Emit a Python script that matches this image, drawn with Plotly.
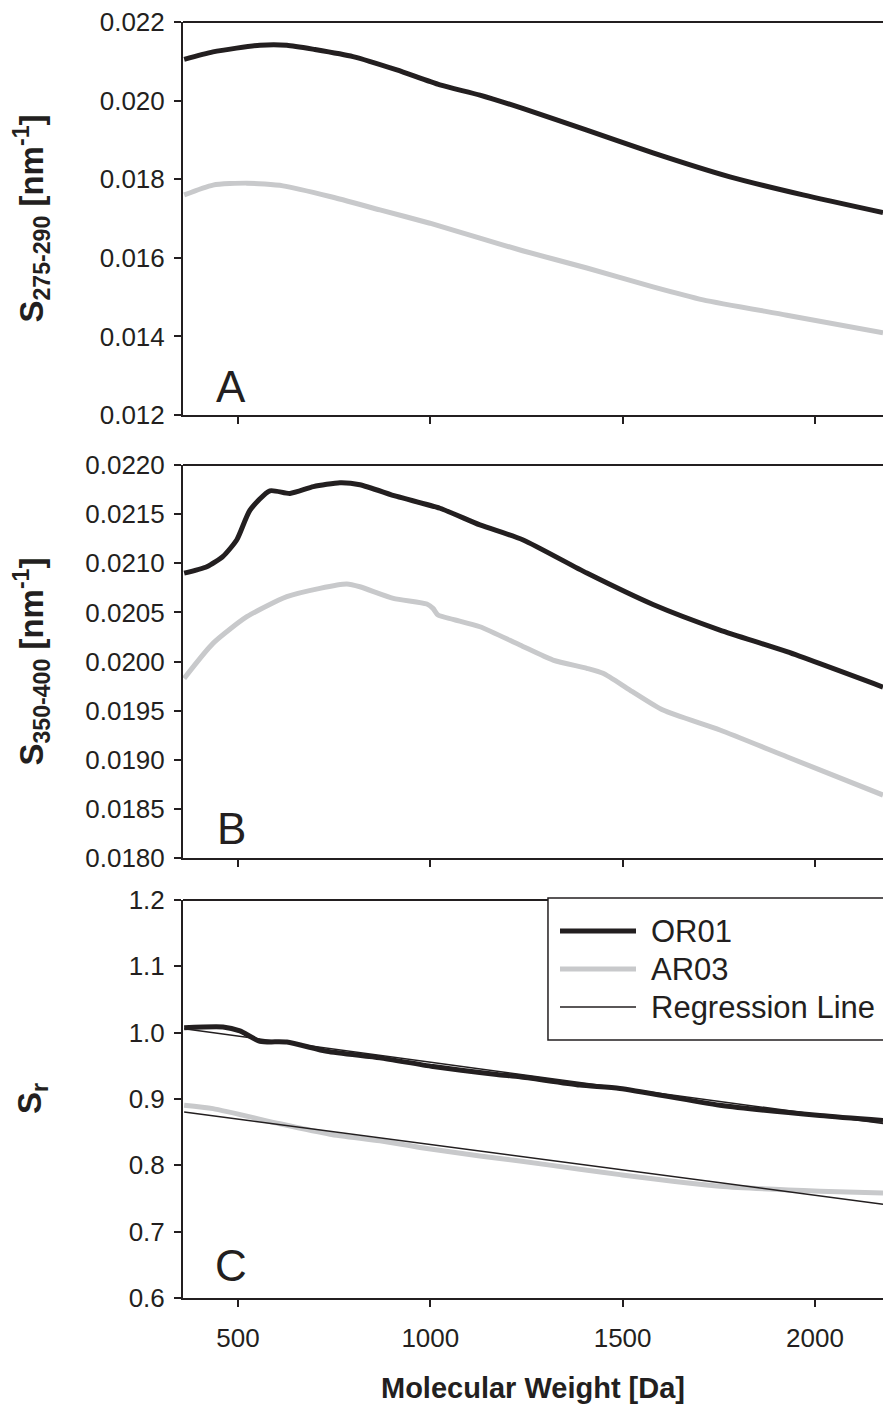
import plotly.graph_objects as go

# ---------------- data ----------------
# Panel A: S275-290
a_or01_x = [360, 435, 557, 627, 700, 799, 913, 1025, 1129, 1240, 1407, 1579, 1779, 1969, 2177]
a_or01_y = [0.02105, 0.02124, 0.02141, 0.02141, 0.02130, 0.02112, 0.02078, 0.02040, 0.02014,
            0.01980, 0.01925, 0.01867, 0.01806, 0.01760, 0.01715]
a_ar03_x = [360, 435, 523, 617, 739, 869, 999, 1129, 1240, 1407, 1579, 1709, 1927, 2177]
a_ar03_y = [0.01760, 0.01785, 0.01790, 0.01783, 0.01756, 0.01722, 0.01688, 0.01650, 0.01618,
            0.01574, 0.01526, 0.01493, 0.01454, 0.01409]

# Panel B: S350-400
b_or01_x = [360, 419, 461, 497, 531, 583, 635, 696, 765, 817, 913, 1025, 1129, 1240, 1407,
            1579, 1753, 1927, 2177]
b_or01_y = [0.02090, 0.020965, 0.02107, 0.02124, 0.02154, 0.021738, 0.02171, 0.02178, 0.02182,
            0.02180, 0.02168, 0.02156, 0.02139, 0.02124, 0.02090, 0.02058, 0.02032, 0.02010, 0.01974]
b_ar03_x = [360, 435, 523, 627, 713, 783, 817, 904, 991, 1007, 1020, 1059, 1129, 1233, 1319,
            1407, 1449, 1519, 1605, 1753, 1927, 2177]
b_ar03_y = [0.019829, 0.020185, 0.020456, 0.02066, 0.020745, 0.020789, 0.020761, 0.020643,
            0.020585, 0.020541, 0.020473, 0.020429, 0.020354, 0.020168, 0.020015, 0.019931,
            0.01988, 0.01971, 0.019506, 0.019303, 0.019031, 0.018641]

# Panel C: Sr
c_or01_x = [360, 461, 505, 557, 627, 731, 869, 1007, 1173, 1233, 1389, 1493, 1753, 2013, 2177]
c_or01_y = [1.0076, 1.0087, 1.0026, 0.987, 0.9858, 0.972, 0.962, 0.949, 0.937, 0.9335, 0.921,
            0.916, 0.8906, 0.8753, 0.8677]
c_ar03_x = [360, 435, 609, 739, 869, 973, 1129, 1233, 1389, 1493, 1753, 2013, 2177]
c_ar03_y = [0.8905, 0.8855, 0.8626, 0.847, 0.837, 0.827, 0.814, 0.8066, 0.794, 0.786, 0.7684,
            0.761, 0.7583]
c_reg_or01_x = [360, 2177]
c_reg_or01_y = [1.006, 0.863]
c_reg_ar03_x = [360, 2177]
c_reg_ar03_y = [0.8805, 0.7415]

x_range = [357, 2177]
x_ticks = [500, 1000, 1500, 2000]
legend_labels = ["OR01", "AR03", "Regression Line"]

# ---------------- style ----------------
BLACK = "#231f20"
GRAY = "#c8c9cb"
FONT = "Arial, Liberation Sans, sans-serif"
TICKFONT = dict(family=FONT, size=26, color=BLACK)

fig = go.Figure()

def line(x, y, color, width, xa, ya, name):
    fig.add_trace(go.Scatter(x=x, y=y, mode="lines", name=name, showlegend=False,
                             line=dict(color=color, width=width, shape="spline", smoothing=0.6),
                             xaxis=xa, yaxis=ya, hoverinfo="skip"))

line(a_or01_x, a_or01_y, BLACK, 5, "x", "y", "OR01")
line(a_ar03_x, a_ar03_y, GRAY, 5, "x", "y", "AR03")
line(b_or01_x, b_or01_y, BLACK, 5, "x2", "y2", "OR01")
line(b_ar03_x, b_ar03_y, GRAY, 5, "x2", "y2", "AR03")
line(c_ar03_x, c_ar03_y, GRAY, 5, "x3", "y3", "AR03")
line(c_or01_x, c_or01_y, BLACK, 5, "x3", "y3", "OR01")
fig.add_trace(go.Scatter(x=c_reg_or01_x, y=c_reg_or01_y, mode="lines", showlegend=False,
                         line=dict(color=BLACK, width=1.5), xaxis="x3", yaxis="y3", hoverinfo="skip"))
fig.add_trace(go.Scatter(x=c_reg_ar03_x, y=c_reg_ar03_y, mode="lines", showlegend=False,
                         line=dict(color=BLACK, width=1.5), xaxis="x3", yaxis="y3", hoverinfo="skip"))

xcommon = dict(range=x_range, tickvals=x_ticks, ticks="outside", ticklen=7, tickwidth=2,
               tickcolor=BLACK, showline=True, linecolor=BLACK, linewidth=2, showgrid=False,
               zeroline=False, tickfont=TICKFONT, domain=[0, 1])
ycommon = dict(ticks="outside", ticklen=7, tickwidth=2, tickcolor=BLACK, showline=True,
               linecolor=BLACK, linewidth=2, showgrid=False, zeroline=False, tickfont=TICKFONT,
               ticklabelstandoff=4)

fig.update_layout(
    width=883, height=1406,
    margin=dict(l=183, r=0, t=22, b=108),
    plot_bgcolor="white", paper_bgcolor="white",
    font=dict(family=FONT, color=BLACK),
    showlegend=False,
    xaxis=dict(xcommon, anchor="y", showticklabels=False),
    xaxis2=dict(xcommon, anchor="y2", showticklabels=False),
    xaxis3=dict(xcommon, anchor="y3", showticklabels=True, ticklabelstandoff=9),
    yaxis=dict(ycommon, domain=[0.692, 1.0], range=[0.012, 0.022], dtick=0.002,
               tickformat=".3f", anchor="x"),
    yaxis2=dict(ycommon, domain=[0.3448, 0.6528], range=[0.018, 0.022], dtick=0.0005,
                tickformat=".4f", anchor="x2"),
    yaxis3=dict(ycommon, domain=[0.0, 0.3119], range=[0.6, 1.2], dtick=0.1,
                tickformat=".1f", anchor="x3"),
)

shapes = []
# top frame lines of each panel
for xa, ya in [("x", "y"), ("x2", "y2"), ("x3", "y3")]:
    shapes.append(dict(type="line", xref=f"{xa} domain", yref=f"{ya} domain",
                       x0=0, x1=1.01, y0=1, y1=1, line=dict(color=BLACK, width=2)))

# legend (panel C)
shapes.append(dict(type="rect", xref="x3 domain", yref="y3 domain",
                   x0=0.5214, x1=1.05, y0=(1298 - 1040) / 398, y1=(1298 - 898) / 398,
                   line=dict(color=BLACK, width=1.5), fillcolor="white", layer="above"))
leg_styles = [(BLACK, 5), (GRAY, 5), (BLACK, 1.5)]
leg_py = [931, 969, 1007]
annotations = []
for lab, (col, w), py in zip(legend_labels, leg_styles, leg_py):
    yy = (1298 - py) / 398
    shapes.append(dict(type="line", xref="x3 domain", yref="y3 domain",
                       x0=(560 - 183) / 700, x1=(636 - 183) / 700, y0=yy, y1=yy,
                       line=dict(color=col, width=w), layer="above"))
    annotations.append(dict(text=lab, xref="x3 domain", yref="y3 domain",
                            x=(649 - 183) / 700, y=yy, xanchor="left", yanchor="middle",
                            showarrow=False, font=dict(family=FONT, size=31, color=BLACK)))

# panel letters
for lab, ya, yy in [("A", "y", (415 - 386) / 393), ("B", "y2", (858 - 828) / 393),
                    ("C", "y3", (1298 - 1265) / 398)]:
    annotations.append(dict(text=lab, xref="x domain", yref=f"{ya} domain",
                            x=(231 - 183) / 700, y=yy, xanchor="center", yanchor="middle",
                            showarrow=False, font=dict(family=FONT, size=44, color=BLACK)))

# axis titles
ytitle_x = -(183 - 32) / 700
for txt, ya, yy in [("<b>S<sub>275-290</sub> [nm<sup>-1</sup>]</b>", "y", 0.5),
                    ("<b>S<sub>350-400</sub> [nm<sup>-1</sup>]</b>", "y2", 0.5),
                    ("<b>S<sub>r</sub></b>", "y3", 0.5)]:
    annotations.append(dict(text=txt, xref="paper", yref=f"{ya} domain", x=ytitle_x, y=yy,
                            xanchor="center", yanchor="middle", textangle=-90, showarrow=False,
                            font=dict(family=FONT, size=33, color=BLACK)))
annotations.append(dict(text="<b>Molecular Weight [Da]</b>", xref="paper", yref="paper",
                        x=0.5, y=-(1388 - 1298) / 1276, xanchor="center", yanchor="middle",
                        showarrow=False, font=dict(family=FONT, size=29, color=BLACK)))

fig.update_layout(shapes=shapes, annotations=annotations)
fig.write_html("out.html", config={"displayModeBar": False},
               post_script="document.body.style.margin='0';document.body.style.padding='0';")
